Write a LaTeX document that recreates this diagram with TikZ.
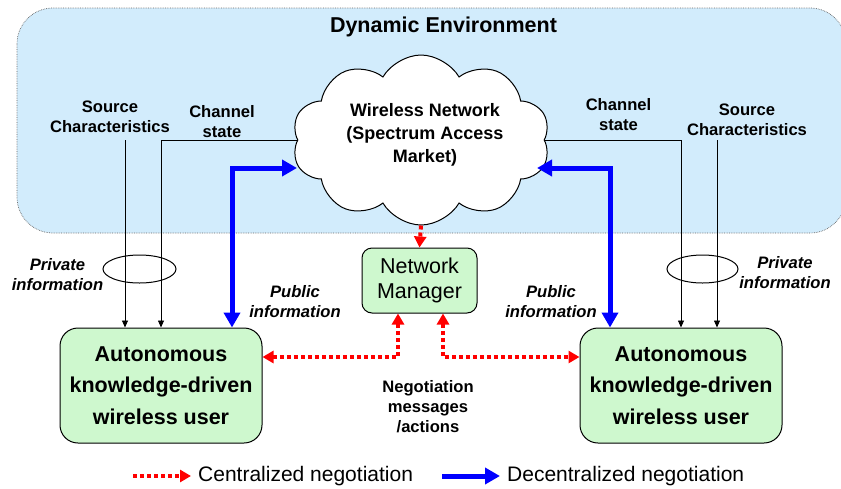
\documentclass[tikz,border=0pt]{standalone}
\usepackage{fontspec}
\setmainfont{Liberation Sans}
\usetikzlibrary{arrows.meta,shapes.symbols,shapes.geometric,calc}
\definecolor{envblue}{RGB}{210,236,252}
\definecolor{boxgreen}{RGB}{206,248,206}
\tikzset{
  lbl/.style={font=\fontsize{16.6}{20}\selectfont\bfseries, align=center, inner sep=0pt},
  ilbl/.style={font=\fontsize{16.6}{20}\selectfont\bfseries\itshape, align=center, inner sep=0pt},
  userbox/.style={draw=black, line width=1pt, fill=boxgreen, rounded corners=18pt,
     minimum width=202pt, minimum height=115pt, align=center,
     font=\fontsize{21.5}{31.5}\selectfont\bfseries, inner sep=0pt},
  mgrbox/.style={draw=black, line width=1pt, fill=boxgreen, rounded corners=10pt,
     minimum width=115pt, minimum height=65pt, align=center,
     font=\fontsize{21.5}{25.5}\selectfont, inner sep=0pt},
  thin arrow/.style={draw=black, line width=0.8pt, -{Triangle[length=7pt,width=6pt]}},
  red arrow/.style={draw=red, line width=4pt, dash pattern=on 4pt off 3pt,
     -{Triangle[length=11pt,width=12pt]}},
  red both/.style={draw=red, line width=4pt, dash pattern=on 4pt off 3pt,
     {Triangle[length=11pt,width=12pt]}-{Triangle[length=11pt,width=12pt]}},
  blue both/.style={draw=blue, line width=5pt,
     {Triangle[length=15pt,width=16pt]}-{Triangle[length=15pt,width=16pt]}},
  blue arrow/.style={draw=blue, line width=5pt, -{Triangle[length=15pt,width=16pt]}},
  ring/.style={draw=black, line width=1pt, ellipse, minimum height=28pt, inner sep=0pt},
}
\begin{document}
\begin{tikzpicture}[x=1pt,y=-1pt]
\useasboundingbox (0,0) rectangle (841,488);
% environment
\path[fill=envblue, draw=gray!80!black, line width=0.7pt, densely dotted, rounded corners=36pt]
  (17,8) rectangle (846,233);
\node[font=\fontsize{21.5}{25}\selectfont\bfseries, inner sep=0pt] (title) at (443.5,27) {Dynamic Environment};
% cloud
\node[cloud, cloud puffs=10, cloud puff arc=120, aspect=1.55, draw=black, line width=1pt, fill=white,
      minimum width=258pt, minimum height=170pt, inner sep=0pt] (cloud) at (421,140) {};
\node[font=\fontsize{18}{23}\selectfont\bfseries, align=center, inner sep=0pt] (cloudtxt) at (425,135)
  {Wireless Network\\(Spectrum Access\\Market)};
% boxes
\node[mgrbox] (nm) at (419.5,280.5) {Network\\Manager};
\node[userbox] (ul) at (161,385.5) {Autonomous\\knowledge-driven\\wireless user};
\node[userbox] (ur) at (681,385.5) {Autonomous\\knowledge-driven\\wireless user};
% labels
\node[lbl] (srcL) at (110,117) {Source\\Characteristics};
\node[lbl] (chL) at (222,122) {Channel\\state};
\node[lbl] (chR) at (618.5,114.5) {Channel\\state};
\node[lbl] (srcR) at (747,120) {Source\\Characteristics};
\node[ilbl] (privL) at (57.5,275) {Private\\information};
\node[ilbl] (privR) at (785,273) {Private\\information};
\node[ilbl] (pubL) at (295,302) {Public\\information};
\node[ilbl] (pubR) at (551,302) {Public\\information};
\node[lbl] (neg) at (428,407) {Negotiation\\messages\\/actions};
% coordinates
\coordinate (sL) at (125,140);
\coordinate (sR) at (717,140);
\coordinate (bL) at (232,168);
\coordinate (bR) at (610,168);
\coordinate (bLe) at (297,168);
\coordinate (bRe) at (537,168);
\coordinate (rl) at (398,357);
\coordinate (rr) at (443,357);
% private info lines
\draw[thin arrow] (sL) -- (sL |- ul.north);
\draw[thin arrow] (sR) -- (sR |- ur.north);
\draw[thin arrow] (cloud.west) -| (ul.north);
\draw[thin arrow] (cloud.east) -| (ur.north);
\node[ring, minimum width=73pt] (elL) at (139.5,269) {};
\node[ring, minimum width=71pt] (elR) at (702.5,269) {};
% blue
\draw[blue both] (ul.north -| bL) -- (bL) -- (bLe);
\draw[blue both] (ur.north -| bR) -- (bR) -- (bRe);
% red
\draw[red arrow] (cloud.south) -- (nm.north);
\draw[red both] (ul.east |- rl) -- (rl) -- (nm.south -| rl);
\draw[red both] (nm.south -| rr) -- (rr) -- (ur.west |- rr);
% legend
\node[anchor=west, font=\fontsize{21}{25}\selectfont, inner sep=0pt] (legC) at (198,476) {Centralized negotiation};
\node[anchor=west, font=\fontsize{21}{25}\selectfont, inner sep=0pt] (legD) at (507,476) {Decentralized negotiation};
\coordinate (lcs) at (133,476);
\coordinate (lds) at (442,476);
\draw[red arrow] (lcs) -- ($(legC.west)+(-7,0)$);
\draw[blue arrow] (lds) -- ($(legD.west)+(-7,0)$);
\end{tikzpicture}
\end{document}
